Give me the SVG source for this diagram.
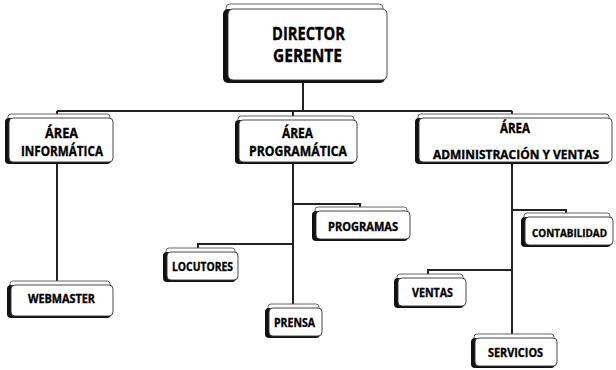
<svg xmlns="http://www.w3.org/2000/svg" width="616" height="370" viewBox="0 0 616 370">
<style>
.plate{fill:#fff;stroke:#555;stroke-width:0.9}
.shadow{fill:#111}
.face{fill:#fff;stroke:#333;stroke-width:0.9}
.t{font-family:"Open Sans","DejaVu Sans",sans-serif;font-weight:700;fill:#000;stroke:#000;stroke-width:0.35}
.big{font-size:18px}
.mid{font-size:14px}
.sm{font-size:12px}
.conn{fill:none;stroke:#222;stroke-width:2}
</style>
<rect width="616" height="370" fill="#fff"/>
<g id="connectors">
<path class="conn" d="M303 82V111M57 111H512M57 111V115M293 111V117M512 111V115"/>
<path class="conn" d="M57 163V282"/>
<path class="conn" d="M293 163V305M293 204H360V208M293 244H198V249"/>
<path class="conn" d="M512 163V335M512 210H566V214M512 270H428V275"/>
</g>
<g id="director">
<rect class="plate" x="226" y="4" width="157" height="12" rx="4"/>
<rect class="shadow" x="223" y="9" width="162" height="74" rx="5"/>
<rect class="face" x="228" y="9" width="159" height="71" rx="5"/>
<text class="t big" x="272" y="40" textLength="73" lengthAdjust="spacingAndGlyphs">DIRECTOR</text>
<text class="t big" x="273" y="62" textLength="69" lengthAdjust="spacingAndGlyphs">GERENTE</text>
</g>
<g id="area-informatica">
<rect class="plate" x="8" y="114" width="102" height="8" rx="3"/>
<rect class="shadow" x="5" y="118" width="106" height="46" rx="4"/>
<rect class="face" x="9" y="118" width="104" height="44" rx="4"/>
<text class="t mid" x="45" y="138" textLength="33" lengthAdjust="spacingAndGlyphs">ÁREA</text>
<text class="t mid" x="21" y="156" textLength="82" lengthAdjust="spacingAndGlyphs">INFORMÁTICA</text>
</g>
<g id="area-programatica">
<rect class="plate" x="238" y="116" width="116" height="8" rx="3"/>
<rect class="shadow" x="235" y="120" width="120" height="44" rx="4"/>
<rect class="face" x="239" y="120" width="118" height="42" rx="4"/>
<text class="t mid" x="282" y="138" textLength="31" lengthAdjust="spacingAndGlyphs">ÁREA</text>
<text class="t mid" x="249" y="156" textLength="98" lengthAdjust="spacingAndGlyphs">PROGRAMÁTICA</text>
</g>
<g id="area-administracion">
<rect class="plate" x="418" y="114" width="191" height="8" rx="3"/>
<rect class="shadow" x="415" y="118" width="195" height="46" rx="4"/>
<rect class="face" x="419" y="118" width="193" height="44" rx="4"/>
<text class="t mid" x="500" y="133" textLength="30" lengthAdjust="spacingAndGlyphs">ÁREA</text>
<text class="t" font-size="12.5" x="433" y="159" textLength="166" lengthAdjust="spacingAndGlyphs">ADMINISTRACIÓN Y VENTAS</text>
</g>
<g id="webmaster">
<rect class="plate" x="10" y="281" width="100" height="8" rx="3"/>
<rect class="shadow" x="7" y="285" width="104" height="33" rx="4"/>
<rect class="face" x="11" y="285" width="102" height="31" rx="4"/>
<text class="t sm" x="28" y="303" textLength="67" lengthAdjust="spacingAndGlyphs">WEBMASTER</text>
</g>
<g id="programas">
<rect class="plate" x="315" y="207" width="92" height="8" rx="3"/>
<rect class="shadow" x="312" y="211" width="96" height="30" rx="4"/>
<rect class="face" x="316" y="211" width="94" height="28" rx="4"/>
<text class="t sm" x="328" y="231" textLength="70" lengthAdjust="spacingAndGlyphs">PROGRAMAS</text>
</g>
<g id="locutores">
<rect class="plate" x="166" y="248" width="69" height="8" rx="3"/>
<rect class="shadow" x="163" y="252" width="73" height="30" rx="4"/>
<rect class="face" x="167" y="252" width="71" height="28" rx="4"/>
<text class="t sm" x="172" y="271" textLength="61" lengthAdjust="spacingAndGlyphs">LOCUTORES</text>
</g>
<g id="prensa">
<rect class="plate" x="268" y="304" width="51" height="8" rx="3"/>
<rect class="shadow" x="265" y="308" width="55" height="30" rx="4"/>
<rect class="face" x="269" y="308" width="53" height="28" rx="4"/>
<text class="t sm" x="274" y="327" textLength="41" lengthAdjust="spacingAndGlyphs">PRENSA</text>
</g>
<g id="contabilidad">
<rect class="plate" x="524" y="213" width="86" height="8" rx="3"/>
<rect class="shadow" x="521" y="217" width="90" height="30" rx="4"/>
<rect class="face" x="525" y="217" width="88" height="28" rx="4"/>
<text class="t" font-size="11" x="532" y="237" textLength="75" lengthAdjust="spacingAndGlyphs">CONTABILIDAD</text>
</g>
<g id="ventas">
<rect class="plate" x="397" y="274" width="66" height="8" rx="3"/>
<rect class="shadow" x="394" y="278" width="70" height="30" rx="4"/>
<rect class="face" x="398" y="278" width="68" height="28" rx="4"/>
<text class="t sm" x="412" y="297" textLength="41" lengthAdjust="spacingAndGlyphs">VENTAS</text>
</g>
<g id="servicios">
<rect class="plate" x="474" y="334" width="80" height="8" rx="3"/>
<rect class="shadow" x="471" y="338" width="84" height="30" rx="4"/>
<rect class="face" x="475" y="338" width="82" height="28" rx="4"/>
<text class="t sm" x="488" y="357" textLength="55" lengthAdjust="spacingAndGlyphs">SERVICIOS</text>
</g>
</svg>
